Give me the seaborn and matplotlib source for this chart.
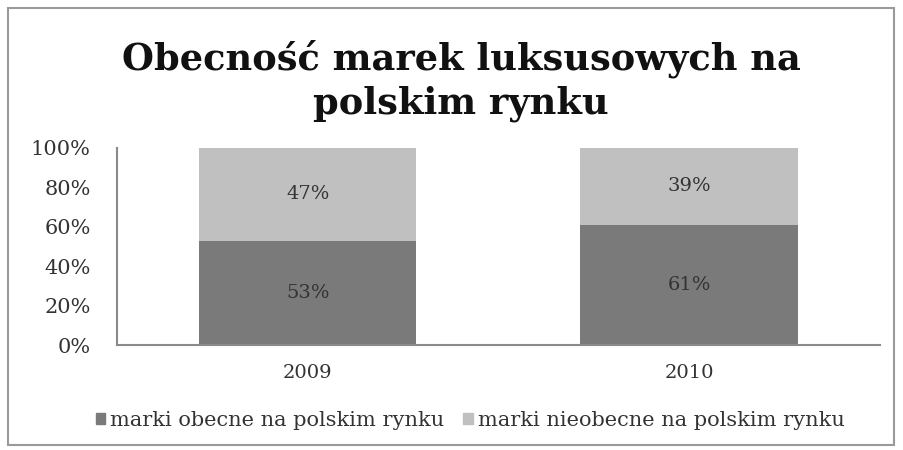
import matplotlib
matplotlib.use("Agg")
import matplotlib.pyplot as plt
import seaborn as sns
import pandas as pd
from matplotlib.patches import Rectangle, Patch

years = ["2009", "2010"]
present = [53, 61]
absent = [47, 39]
series_names = ["marki obecne na polskim rynku", "marki nieobecne na polskim rynku"]
title = "Obecność marek luksusowych na\npolskim rynku"
yticks = [0, 20, 40, 60, 80, 100]

dark = "#7a7a7a"
light = "#c0c0c0"

sns.set_theme(style="white")
plt.rcParams["font.family"] = ["DejaVu Serif"]

df = pd.DataFrame({"year": years, "present": present, "absent": absent})

fig = plt.figure(figsize=(9.04, 4.5), dpi=100)
ax = fig.add_axes([0.1294, 0.2333, 0.844, 0.438])

sns.barplot(data=df, x="year", y="present", color=dark, width=0.57, ax=ax,
            saturation=1, linewidth=0)
sns.barplot(data=df, x="year", y="absent", color=light, width=0.57, ax=ax,
            saturation=1, linewidth=0, bottom=df["present"])

for i, (p, a) in enumerate(zip(present, absent)):
    ax.text(i, p / 2, f"{p}%", ha="center", va="center", fontsize=14, color="#333333")
    ax.text(i, p + a / 2, f"{a}%", ha="center", va="center", fontsize=14, color="#333333")

ax.set_xlim(-0.5, 1.5)
ax.set_ylim(0, 100)
ax.set_yticks(yticks)
ax.set_yticklabels([f"{t}%" for t in yticks], fontsize=15, color="#333333")
ax.tick_params(axis="x", labelsize=14, colors="#333333", pad=14, length=0)
ax.tick_params(axis="y", pad=19, length=0)
ax.set_xlabel("")
ax.set_ylabel("")
for s in ["top", "right"]:
    ax.spines[s].set_visible(False)
for s in ["left", "bottom"]:
    ax.spines[s].set_color("#8a8a8a")
    ax.spines[s].set_linewidth(1.5)

fig.text(0.51, 0.82, title, ha="center", va="center", fontsize=26.5,
         fontweight="bold", color="#111111", linespacing=1.25)

handles = [Patch(color=dark), Patch(color=light)]
fig.legend(handles, series_names, loc="center", bbox_to_anchor=(0.52, 0.066),
           ncol=2, frameon=False, fontsize=15, handlelength=0.45, handleheight=0.45,
           handletextpad=0.25, columnspacing=0.9, labelcolor="#333333")

fig.patches.append(Rectangle((8 / 904, 5 / 450), 886 / 904, 437 / 450,
                             transform=fig.transFigure, fill=False,
                             edgecolor="#9a9a9a", linewidth=1.5))

fig.savefig("out.png", dpi=100)
